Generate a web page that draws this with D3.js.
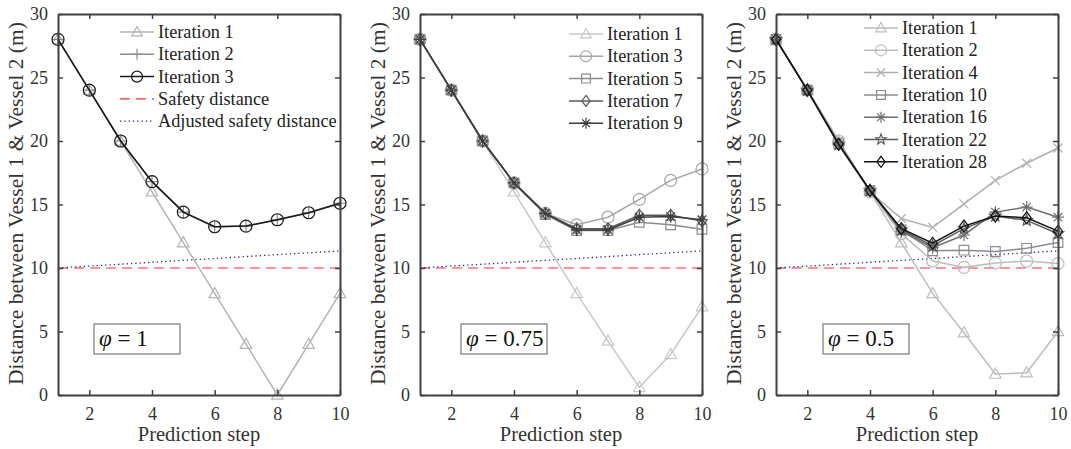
<!DOCTYPE html>
<html>
<head>
<meta charset="utf-8">
<script src="https://cdn.jsdelivr.net/npm/d3@7"></script>
<style>
  body { margin: 0; background: #fff; }
  svg text { font-family: "Liberation Serif", "Times New Roman", serif; }
</style>
</head>
<body>
<svg id="chart" width="1071" height="449"></svg>
<script>
// shared data
var steps = [1, 2, 3, 4, 5, 6, 7, 8, 9, 10];
var yTicks = [0, 5, 10, 15, 20, 25, 30];
var xTicks = [2, 4, 6, 8, 10];
var safety = [10, 10, 10, 10, 10, 10, 10, 10, 10, 10];
var adjusted = [10, 10.15, 10.3, 10.45, 10.6, 10.75, 10.9, 11.05, 11.2, 11.35];

// panel 1 (phi = 1)
var p1Labels = ["Iteration 1", "Iteration 2", "Iteration 3"];
var p1Iter1 = [28, 24, 20, 16, 12, 8, 4, 0, 4, 8];
var p1Iter2 = [28, 24, 20, 16.8, 14.4, 13.25, 13.3, 13.8, 14.35, 15.1];
var p1Iter3 = [28, 24, 20, 16.8, 14.4, 13.25, 13.3, 13.8, 14.35, 15.1];

// panel 2 (phi = 0.75)
var p2Labels = ["Iteration 1", "Iteration 3", "Iteration 5", "Iteration 7", "Iteration 9"];
var p2Iter1 = [28, 24, 20, 16, 12, 8, 4.25, 0.6, 3.2, 6.95];
var p2Iter3 = [28, 24, 20, 16.7, 14.3, 13.4, 14.0, 15.4, 16.9, 17.8];
var p2Iter5 = [28, 24, 20, 16.7, 14.2, 12.95, 12.95, 13.6, 13.4, 13.05];
var p2Iter7 = [28, 24, 20, 16.7, 14.3, 13.1, 13.1, 14.15, 14.15, 13.7];
var p2Iter9 = [28, 24, 20, 16.7, 14.3, 13.0, 13.0, 14.0, 14.05, 13.8];

// panel 3 (phi = 0.5)
var p3Labels = ["Iteration 1", "Iteration 2", "Iteration 4", "Iteration 10", "Iteration 16", "Iteration 22", "Iteration 28"];
var p3Iter1 = [28, 24, 20, 16, 12, 8, 4.9, 1.65, 1.75, 5.0];
var p3Iter2 = [28, 24, 20, 16, 12.7, 10.55, 10.05, 10.4, 10.55, 10.35];
var p3Iter4 = [28, 24, 20, 16, 13.9, 13.2, 15.05, 16.9, 18.25, 19.45];
var p3Iter10 = [28, 24, 19.8, 16.1, 13.0, 11.35, 11.4, 11.3, 11.55, 12.0];
var p3Iter16 = [28, 24, 19.7, 16.1, 12.9, 11.6, 12.6, 14.4, 14.8, 14.0];
var p3Iter22 = [28, 24, 19.7, 16.1, 13.0, 11.75, 13.1, 14.1, 13.75, 12.7];
var p3Iter28 = [28, 24, 19.75, 16.1, 13.1, 11.95, 13.3, 14.1, 13.95, 12.9];

var panels = [
  { left: 58, legendX: 62, legendY: 32, boxX: 36, phi: "1", labels: p1Labels,
    series: [p1Iter1, p1Iter2, p1Iter3],
    markers: ["triangle", "plus", "circle"],
    colors: ["#b4b4b4", "#8c8c8c", "#1a1a1a"],
    extra: true },
  { left: 420, legendX: 149, legendY: 34, boxX: 41, phi: "0.75", labels: p2Labels,
    series: [p2Iter1, p2Iter3, p2Iter5, p2Iter7, p2Iter9],
    markers: ["triangle", "circle", "square", "diamond", "asterisk"],
    colors: ["#c8c8c8", "#a6a6a6", "#8c8c8c", "#5a5a5a", "#3c3c3c"] },
  { left: 776, legendX: 88, legendY: 28, boxX: 47, phi: "0.5", labels: p3Labels,
    series: [p3Iter1, p3Iter2, p3Iter4, p3Iter10, p3Iter16, p3Iter22, p3Iter28],
    markers: ["triangle", "circle", "x", "square", "asterisk", "star", "diamond"],
    colors: ["#bdbdbd", "#bdbdbd", "#b0b0b0", "#8c8c8c", "#707070", "#5c5c5c", "#111111"] }
];

var plotTop = 14, plotH = 381, plotW = 282;
var axisColor = "#404040";
var serif = "'Liberation Serif', 'Times New Roman', serif";
var svg = d3.select("#chart");

// marker path around 0,0
function markerPath(type, r) {
  var p = d3.path();
  if (type === "triangle") {
    p.moveTo(0, -r); p.lineTo(r * 0.95, r * 0.7); p.lineTo(-r * 0.95, r * 0.7); p.closePath();
  } else if (type === "circle") {
    p.moveTo(r, 0);
    p.arc(0, 0, r, 0, 2 * Math.PI);
  } else if (type === "square") {
    var s = r * 0.8;
    p.rect(-s, -s, 2 * s, 2 * s);
  } else if (type === "diamond") {
    p.moveTo(0, -r); p.lineTo(r * 0.75, 0); p.lineTo(0, r); p.lineTo(-r * 0.75, 0); p.closePath();
  } else if (type === "plus") {
    p.moveTo(-r, 0); p.lineTo(r, 0); p.moveTo(0, -r); p.lineTo(0, r);
  } else if (type === "x") {
    var a = r * 0.75;
    p.moveTo(-a, -a); p.lineTo(a, a); p.moveTo(-a, a); p.lineTo(a, -a);
  } else if (type === "asterisk") {
    var b = r * 0.7;
    p.moveTo(-r, 0); p.lineTo(r, 0); p.moveTo(0, -r); p.lineTo(0, r);
    p.moveTo(-b, -b); p.lineTo(b, b); p.moveTo(-b, b); p.lineTo(b, -b);
  } else if (type === "star") {
    for (var i = 0; i < 10; i++) {
      var ang = -Math.PI / 2 + i * Math.PI / 5;
      var rr = i % 2 === 0 ? r : r * 0.42;
      if (i === 0) p.moveTo(rr * Math.cos(ang), rr * Math.sin(ang));
      else p.lineTo(rr * Math.cos(ang), rr * Math.sin(ang));
    }
    p.closePath();
  }
  return p.toString();
}

panels.forEach(function (pn) {
  var g = svg.append("g").attr("transform", "translate(" + pn.left + "," + plotTop + ")");
  var x = d3.scaleLinear().domain([1, 10]).range([0, plotW]);
  var y = d3.scaleLinear().domain([0, 30]).range([plotH, 0]);

  // reference lines
  var line = d3.line().x((d, i) => x(steps[i])).y(d => y(d));
  g.append("path").datum(safety)
    .attr("d", line).attr("fill", "none")
    .attr("stroke", "#f03030").attr("stroke-width", 1).attr("stroke-dasharray", "10,6");
  g.append("path").datum(adjusted)
    .attr("d", line).attr("fill", "none")
    .attr("stroke", "#2020b0").attr("stroke-width", 1.3).attr("stroke-dasharray", "1.3,3");

  // series
  pn.series.forEach(function (s, k) {
    var c = pn.colors[k];
    g.append("path").datum(s)
      .attr("d", line).attr("fill", "none")
      .attr("stroke", c).attr("stroke-width", 1.5);
    g.selectAll(".m" + k)
      .data(s)
      .enter()
      .append("path")
      .attr("class", "m" + k)
      .attr("transform", (d, i) => "translate(" + x(steps[i]) + "," + y(d) + ")")
      .attr("d", markerPath(pn.markers[k], 6))
      .attr("fill", "none")
      .attr("stroke", c)
      .attr("stroke-width", 1.2);
  });

  // axes box with inward ticks
  var xb = d3.axisBottom(x).tickValues(xTicks).tickSizeInner(-5).tickSizeOuter(0).tickPadding(12);
  var xt = d3.axisTop(x).tickValues(xTicks).tickSizeInner(-5).tickSizeOuter(0).tickFormat("");
  var yl = d3.axisLeft(y).tickValues(yTicks).tickSizeInner(-5).tickSizeOuter(0).tickPadding(10);
  var yr = d3.axisRight(y).tickValues(yTicks).tickSizeInner(-5).tickSizeOuter(0).tickFormat("");
  [
    g.append("g").attr("transform", "translate(0," + plotH + ")").call(xb),
    g.append("g").call(xt),
    g.append("g").call(yl),
    g.append("g").attr("transform", "translate(" + plotW + ",0)").call(yr)
  ].forEach(function (a) {
    a.attr("font-family", serif).attr("font-size", 18);
    a.select(".domain").attr("stroke", axisColor).attr("stroke-width", 2);
    a.selectAll(".tick line").attr("stroke", axisColor).attr("stroke-width", 1.5);
    a.selectAll(".tick text").attr("fill", "#333");
  });

  // axis labels
  g.append("text")
    .attr("x", plotW / 2).attr("y", plotH + 46)
    .attr("text-anchor", "middle").attr("fill", "#333")
    .attr("font-family", serif).attr("font-size", 20.5)
    .text("Prediction step");
  g.append("text")
    .attr("transform", "translate(-35," + (plotH / 2 - 1) + ") rotate(-90)")
    .attr("text-anchor", "middle").attr("fill", "#333")
    .attr("font-family", serif).attr("font-size", 21.5)
    .text("Distance between Vessel 1 & Vessel 2 (m)");

  // legend
  var entries = pn.labels.map(function (lab, k) {
    return { label: lab, color: pn.colors[k], marker: pn.markers[k] };
  });
  if (pn.extra) {
    entries.push({ label: "Safety distance", color: "#f03030", dash: "10,6" });
    entries.push({ label: "Adjusted safety distance", color: "#2020b0", dash: "1.3,3" });
  }
  var lg = g.append("g").attr("transform", "translate(" + pn.legendX + "," + (pn.legendY - plotTop) + ")");
  entries.forEach(function (e, k) {
    var row = lg.append("g").attr("transform", "translate(0," + (k * 22.3) + ")");
    row.append("line").attr("x1", 0).attr("x2", 34).attr("y1", 0).attr("y2", 0)
      .attr("stroke", e.color).attr("stroke-width", e.dash ? 1.3 : 1.5)
      .attr("stroke-dasharray", e.dash || null);
    if (e.marker) {
      row.append("path").attr("transform", "translate(17,0)")
        .attr("d", markerPath(e.marker, 5.5))
        .attr("fill", "none").attr("stroke", e.color).attr("stroke-width", 1.2);
    }
    row.append("text").attr("x", 38).attr("y", 6)
      .attr("fill", "#222").attr("font-family", serif).attr("font-size", 18.3)
      .text(e.label);
  });

  // phi annotation box
  var bx = g.append("g").attr("transform", "translate(" + pn.boxX + "," + (324 - plotTop) + ")");
  bx.append("rect").attr("width", 86).attr("height", 30)
    .attr("fill", "#fff").attr("stroke", "#777").attr("stroke-width", 1.2);
  var t = bx.append("text").attr("x", 5).attr("y", 22)
    .attr("fill", "#111").attr("font-family", serif).attr("font-size", 23);
  t.append("tspan").attr("font-style", "italic").text("\u03C6");
  t.append("tspan").text(" = " + pn.phi);
});
</script>
</body>
</html>
